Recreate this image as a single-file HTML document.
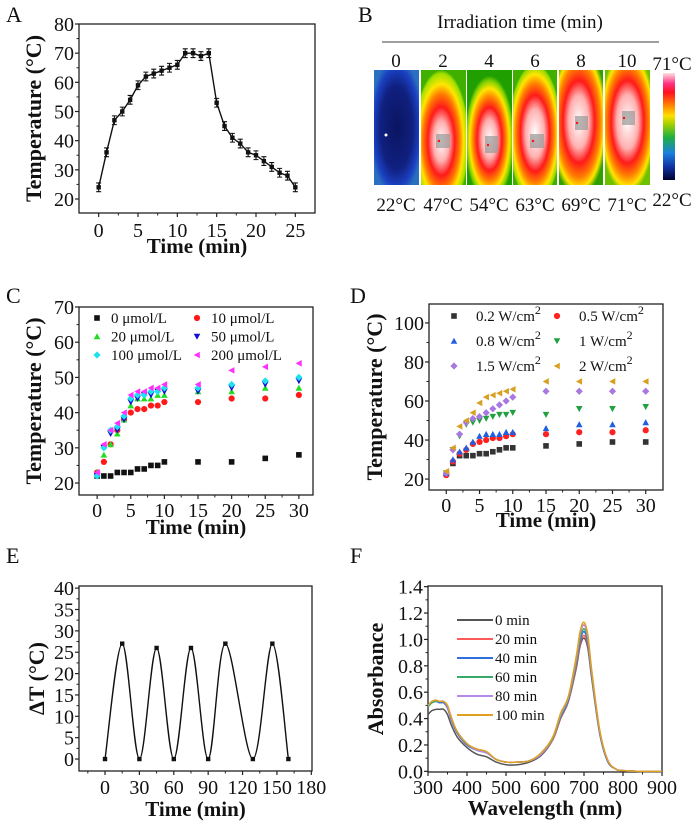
<!DOCTYPE html>
<html><head><meta charset="utf-8"><style>
body{margin:0;background:#fff}
svg{display:block}
text{font-family:"Liberation Serif",serif;fill:#111}
.b{font-weight:bold}
</style></head><body>
<svg id="fig" width="700" height="824" viewBox="0 0 700 824" xmlns="http://www.w3.org/2000/svg">
<defs>
<radialGradient id="hot1" cx="0.45" cy="0.62" r="0.62" fx="0.45" fy="0.62">
<stop offset="0" stop-color="#fff"/><stop offset="0.28" stop-color="#ffb0b0"/><stop offset="0.48" stop-color="#ff1a1a"/><stop offset="0.66" stop-color="#ff7a00"/><stop offset="0.8" stop-color="#ffe600"/><stop offset="0.95" stop-color="#9ee000"/><stop offset="1" stop-color="#40b000"/></radialGradient>
<radialGradient id="hot2" cx="0.5" cy="0.6" r="0.55"><stop offset="0" stop-color="#fff"/><stop offset="0.3" stop-color="#ffb0b0"/><stop offset="0.5" stop-color="#ff1a1a"/><stop offset="0.66" stop-color="#ff8000"/><stop offset="0.8" stop-color="#ffe600"/><stop offset="0.92" stop-color="#80d000"/><stop offset="1" stop-color="#20a000"/></radialGradient>
<radialGradient id="hot3" cx="0.5" cy="0.55" r="0.6"><stop offset="0" stop-color="#fff"/><stop offset="0.35" stop-color="#ffb0b0"/><stop offset="0.55" stop-color="#ff1a1a"/><stop offset="0.72" stop-color="#ff8000"/><stop offset="0.85" stop-color="#ffe600"/><stop offset="0.97" stop-color="#90d800"/><stop offset="1" stop-color="#40b000"/></radialGradient>
<radialGradient id="hot4" cx="0.45" cy="0.45" r="0.65"><stop offset="0" stop-color="#fff"/><stop offset="0.35" stop-color="#ffb0b0"/><stop offset="0.55" stop-color="#ff1a1a"/><stop offset="0.75" stop-color="#ff8000"/><stop offset="0.88" stop-color="#ffe600"/><stop offset="1" stop-color="#30a000"/></radialGradient>
<radialGradient id="hot5" cx="0.5" cy="0.45" r="0.62"><stop offset="0" stop-color="#fff"/><stop offset="0.38" stop-color="#ffb0b0"/><stop offset="0.58" stop-color="#ff1a1a"/><stop offset="0.76" stop-color="#ff8000"/><stop offset="0.9" stop-color="#ffe600"/><stop offset="1" stop-color="#70c000"/></radialGradient>
<radialGradient id="cold" cx="0.5" cy="0.5" r="0.6"><stop offset="0" stop-color="#0a1560"/><stop offset="0.6" stop-color="#102080"/><stop offset="0.85" stop-color="#1a40c0"/><stop offset="1" stop-color="#2a70c0"/></radialGradient>
<linearGradient id="cbar" x1="0" y1="1" x2="0" y2="0"><stop offset="0" stop-color="#000030"/><stop offset="0.12" stop-color="#1030a0"/><stop offset="0.25" stop-color="#1a80e0"/><stop offset="0.4" stop-color="#20b040"/><stop offset="0.52" stop-color="#a0d000"/><stop offset="0.6" stop-color="#ffe000"/><stop offset="0.7" stop-color="#ff8000"/><stop offset="0.82" stop-color="#ff1020"/><stop offset="0.9" stop-color="#ff3080"/><stop offset="1" stop-color="#ffe0e0"/></linearGradient>
</defs>
<g id="panelB">
<text x="358" y="22" font-size="22">B</text>
<text x="520" y="28" font-size="19" text-anchor="middle">Irradiation time (min)</text>
<line x1="382" y1="42" x2="659" y2="42" stroke="#666" stroke-width="1.3"/>
<rect x="374" y="70" width="45" height="115" fill="url(#cold)"/>
<rect x="421" y="70" width="45" height="115" fill="url(#hot1)"/>
<rect x="467" y="70" width="45" height="115" fill="url(#hot2)"/>
<rect x="513" y="70" width="44" height="115" fill="url(#hot3)"/>
<rect x="559" y="70" width="44" height="115" fill="url(#hot4)"/>
<rect x="605" y="70" width="45" height="115" fill="url(#hot5)"/>
<circle cx="386" cy="135" r="1.5" fill="#fff"/>
<g fill="#999" opacity="0.7"><rect x="436" y="134" width="14" height="14"/><rect x="485" y="136" width="13" height="17"/><rect x="530" y="134" width="14" height="14"/><rect x="575" y="116" width="13" height="14"/><rect x="622" y="111" width="13" height="14"/></g>
<g fill="#ff1010"><circle cx="439" cy="141" r="1.2"/><circle cx="488" cy="145" r="1.2"/><circle cx="533" cy="141" r="1.2"/><circle cx="577" cy="123" r="1.2"/><circle cx="624" cy="118" r="1.2"/></g>
<rect x="663" y="73" width="12" height="107" fill="url(#cbar)"/>
<text x="672" y="70" font-size="19" text-anchor="middle">71°C</text>
<text x="672" y="206" font-size="19" text-anchor="middle">22°C</text>
</g>
<g id="plots"></g>
</svg>
<script>
// ---- data ----
var aTime=[0,1,2,3,4,5,6,7,8,9,10,11,12,13,14,15,16,17,18,19,20,21,22,23,24,25];
var aTemp=[24,36,47,50,54,59,62,63,64,65,66,70,70,69,70,53,45,41,39,36,35,33,31,29,28,24];
var aErr=[1.5,1.5,1.5,1.5,1.5,1.5,1.5,1.5,1.5,1.5,1.5,1.5,1.5,1.5,1.5,1.5,1.5,1.5,1.5,1.5,1.5,1.5,1.5,1.5,1.5,1.5];
var bTimes=["0","2","4","6","8","10"];
var bTemps=["22°C","47°C","54°C","63°C","69°C","71°C"];
var cdTime=[0,1,2,3,4,5,6,7,8,9,10,15,20,25,30];
var cLabels=["0 μmol/L","10 μmol/L","20 μmol/L","50 μmol/L","100 μmol/L","200 μmol/L"];
var c0=[22,22,22,23,23,23,24,24,25,25,26,26,26,27,28];
var c10=[23,26,31,35,38,40,41,41,42,42,43,43,44,44,45];
var c20=[23,28,31,34,38,42,44,44,44,45,45,46,46,47,47];
var c50=[22,30,34,35,38,43,44,45,45,46,46,46,47,48,49];
var c100=[22,30,35,36,39,44,45,45,46,46,47,47,48,49,50];
var c200=[23,31,35,37,40,45,46,46,47,47,48,48,52,53,54];
var dLabels=["0.2 W/cm","0.5 W/cm","0.8 W/cm","1 W/cm","1.5 W/cm","2 W/cm"];
var d02=[23,28,32,32,32,33,33,34,35,36,36,37,38,39,39];
var d05=[22,29,33,35,38,39,40,41,41,42,43,43,44,44,45];
var d08=[23,30,34,36,39,42,43,43,43,44,44,46,48,48,49];
var d1=[23,35,42,48,49,50,51,52,53,53,54,53,56,56,57];
var d15=[23,35,43,49,51,52,54,56,58,60,62,65,65,65,65];
var d2=[24,36,47,50,54,59,62,63,64,65,66,70,70,70,70];
var eTime=[0,15,30,45,60,75,90,105,129,146,160];
var eDelta=[0,27,0,26,0,26,0,27,0,27,0];
var fWl=[300,310,320,330,340,350,360,375,400,425,450,475,500,530,560,590,620,640,660,680,690,700,710,720,740,760,780,800,850,900];
var fLabels=["0 min","20 min","40 min","60 min","80 min","100 min"];
var f0=[0.43,0.46,0.47,0.47,0.47,0.43,0.35,0.26,0.18,0.13,0.11,0.07,0.05,0.05,0.07,0.12,0.24,0.40,0.53,0.78,0.95,1.01,0.93,0.70,0.29,0.08,0.02,0.005,0,0];
var f20=[0.49,0.52,0.53,0.52,0.52,0.48,0.39,0.29,0.20,0.16,0.14,0.09,0.07,0.07,0.08,0.13,0.24,0.40,0.53,0.80,0.97,1.03,0.95,0.72,0.30,0.08,0.02,0.005,0,0];
var f40=[0.49,0.52,0.53,0.52,0.52,0.48,0.39,0.29,0.20,0.16,0.14,0.09,0.07,0.07,0.08,0.13,0.25,0.41,0.54,0.82,0.99,1.06,0.97,0.73,0.30,0.08,0.02,0.005,0,0];
var f60=[0.49,0.52,0.53,0.53,0.53,0.49,0.40,0.30,0.21,0.16,0.14,0.09,0.07,0.07,0.08,0.13,0.25,0.42,0.55,0.83,1.01,1.08,0.99,0.74,0.31,0.09,0.02,0.005,0,0];
var f80=[0.50,0.53,0.54,0.53,0.53,0.49,0.40,0.30,0.21,0.16,0.14,0.09,0.07,0.07,0.08,0.13,0.26,0.43,0.56,0.85,1.04,1.11,1.01,0.75,0.31,0.09,0.02,0.005,0,0];
var f100=[0.50,0.53,0.54,0.53,0.53,0.50,0.41,0.30,0.21,0.17,0.15,0.09,0.07,0.07,0.08,0.14,0.26,0.44,0.57,0.87,1.06,1.13,1.03,0.76,0.32,0.09,0.02,0.005,0,0];
// ---- helpers ----
var NS="http://www.w3.org/2000/svg";
var root=document.getElementById('plots');
function mk(tag,attrs,parent){var e=document.createElementNS(NS,tag);for(var k in attrs)e.setAttribute(k,attrs[k]);(parent||root).appendChild(e);return e;}
function txt(s,x,y,size,anchor,parent,cls){var t=mk('text',{x:x,y:y,'font-size':size,'text-anchor':anchor||'start'},parent);if(cls)t.setAttribute('class',cls);t.textContent=s;return t;}
function axes(o){
  var g=mk('g',{});
  
  
  var sx=function(v){return o.x0+(v-o.xd[0])/(o.xd[1]-o.xd[0])*(o.x1-o.x0);};
  var sy=function(v){return o.y1-(v-o.yd[0])/(o.yd[1]-o.yd[0])*(o.y1-o.y0);};
  var box=mk('rect',{x:o.x0,y:o.y0,width:o.x1-o.x0,height:o.y1-o.y0,fill:'none',stroke:'#222','stroke-width':1.3},g);
  
  
  o.xt.forEach(function(v,i){var x=sx(v);mk('line',{x1:x,y1:o.y1,x2:x,y2:o.y1+4,stroke:'#222','stroke-width':1.2},g);
    var t=txt(o.xtl[i],x,o.xlb,20,'middle',g);
    
    });
  (o.xm||[]).forEach(function(v){var x=sx(v);mk('line',{x1:x,y1:o.y1,x2:x,y2:o.y1+2.5,stroke:'#222','stroke-width':1},g);});
  o.yt.forEach(function(v,i){var y=sy(v);mk('line',{x1:o.x0-4,y1:y,x2:o.x0,y2:y,stroke:'#222','stroke-width':1.2},g);
    var t=txt(o.ytl[i],o.x0-5,y+7,20,'end',g);
    
    });
  (o.ym||[]).forEach(function(v){var y=sy(v);mk('line',{x1:o.x0-2.5,y1:y,x2:o.x0,y2:y,stroke:'#222','stroke-width':1},g);});
  var xt=txt(o.xtitle,(o.x0+o.x1)/2,o.xtb,21,'middle',g,'b');
  
  
  var yt=txt(o.ytitle,0,0,22,'middle',g,'b');
  yt.setAttribute('transform','translate('+o.ytx+','+((o.y0+o.y1)/2)+') rotate(-90)');
  
  
  var pl=txt(o.letter,o.lx,o.ly,22,'start',g);
  
  
  return {g:g,sx:sx,sy:sy};
}
function marker(shape,x,y,color,g){
  var s=2.8,e;
  if(shape==='sq')e=mk('rect',{x:x-s,y:y-s,width:2*s,height:2*s,fill:color},g);
  else if(shape==='ci')e=mk('circle',{cx:x,cy:y,r:s+0.3,fill:color},g);
  else if(shape==='up')e=mk('polygon',{points:(x)+','+(y-s-0.5)+' '+(x-s-0.5)+','+(y+s)+' '+(x+s+0.5)+','+(y+s),fill:color},g);
  else if(shape==='dn')e=mk('polygon',{points:(x)+','+(y+s+0.5)+' '+(x-s-0.5)+','+(y-s)+' '+(x+s+0.5)+','+(y-s),fill:color},g);
  else if(shape==='di')e=mk('polygon',{points:x+','+(y-s-0.8)+' '+(x+s+0.8)+','+y+' '+x+','+(y+s+0.8)+' '+(x-s-0.8)+','+y,fill:color},g);
  else e=mk('polygon',{points:(x-s-0.5)+','+y+' '+(x+s)+','+(y-s-0.5)+' '+(x+s)+','+(y+s+0.5),fill:color},g);
  return e;
}
// ---- Panel A ----
var A=axes({name:'panel-a-heating-cooling',x0:79,x1:315,y0:24,y1:213,xd:[-2.5,27.5],yd:[15.2,80],
 xt:[0,5,10,15,20,25],xtl:['0','5','10','15','20','25'],xm:[2.5,7.5,12.5,17.5,22.5],
 yt:[20,30,40,50,60,70,80],ytl:['20','30','40','50','60','70','80'],ym:[25,35,45,55,65,75],
 xlb:237,xtb:253,ytx:41,xtitle:'Time (min)',ytitle:'Temperature (°C)',letter:'A',lx:6,ly:22});
var dA='';aTime.forEach(function(t,i){dA+=(i?'L':'M')+A.sx(t)+','+A.sy(aTemp[i]);});
var lineA=mk('path',{d:dA,fill:'none',stroke:'#111','stroke-width':1.4},A.g);


aTime.forEach(function(t,i){var x=A.sx(t),y1=A.sy(aTemp[i]+aErr[i]),y2=A.sy(aTemp[i]-aErr[i]);
 mk('path',{d:'M'+x+','+y1+'V'+y2+'M'+(x-2.5)+','+y1+'h5M'+(x-2.5)+','+y2+'h5',stroke:'#111','stroke-width':1.1,fill:'none'},A.g);
 var m=mk('rect',{x:x-2.2,y:A.sy(aTemp[i])-2.2,width:4.4,height:4.4,fill:'#111'},A.g);
 
 });
// ---- Panel B labels ----
var bX=[396,443,489,535,581,627];
var gB=document.getElementById('panelB');
bTimes.forEach(function(s,i){var t=txt(s,bX[i],67,19,'middle',gB);
 
 });
bTemps.forEach(function(s,i){var t=txt(s,bX[i],211,19,'middle',gB);
 
 });
// ---- Panel C ----
var C=axes({name:'panel-c-concentration',x0:79,x1:313,y0:307,y1:495,xd:[-2.7,32.1],yd:[16.6,70],
 xt:[0,5,10,15,20,25,30],xtl:['0','5','10','15','20','25','30'],xm:[2.5,7.5,12.5,17.5,22.5,27.5],
 yt:[20,30,40,50,60,70],ytl:['20','30','40','50','60','70'],ym:[25,35,45,55,65],
 xlb:517,xtb:534,ytx:41,xtitle:'Time (min)',ytitle:'Temperature (°C)',letter:'C',lx:6,ly:303});
var cSeries=[c0,c10,c20,c50,c100,c200];
var cCols=['#111','#ff1a1a','#22dd22','#1010d0','#20e0f0','#ff30ff'];
var cShapes=['sq','ci','up','dn','di','lt'];
cSeries.forEach(function(s,k){s.forEach(function(v,i){var m=marker(cShapes[k],C.sx(cdTime[i]),C.sy(v),cCols[k],C.g);
 
 });});
cLabels.forEach(function(l,k){var col=k%2,row=Math.floor(k/2);var x=97+col*100,y=318+row*18.5;
 marker(cShapes[k],x,y,cCols[k],C.g);var t=txt(l,x+14,y+5,15,'start',C.g);
 
 });
// ---- Panel D ----
var D=axes({name:'panel-d-power-density',x0:429,x1:663,y0:304,y1:490,xd:[-2.6,32.6],yd:[14.4,109.7],
 xt:[0,5,10,15,20,25,30],xtl:['0','5','10','15','20','25','30'],xm:[2.5,7.5,12.5,17.5,22.5,27.5],
 yt:[20,40,60,80,100],ytl:['20','40','60','80','100'],ym:[30,50,70,90],
 xlb:512,xtb:527,ytx:382,xtitle:'Time (min)',ytitle:'Temperature (°C)',letter:'D',lx:350,ly:303});
var dSeries=[d02,d05,d08,d1,d15,d2];
var dCols=['#333','#ff2020','#2060e0','#20a040','#a878e0','#d8a020'];
var dShapes=['sq','ci','up','dn','di','lt'];
dSeries.forEach(function(s,k){s.forEach(function(v,i){var m=marker(dShapes[k],D.sx(cdTime[i]),D.sy(v),dCols[k],D.g);
 
 });});
dLabels.forEach(function(l,k){var col=k%2,row=Math.floor(k/2);var x=454+col*103,y=316+row*25;
 marker(dShapes[k],x,y,dCols[k],D.g);var t=txt(l,x+22,y+5,15,'start',D.g);
 var sup=document.createElementNS(NS,'tspan');sup.setAttribute('dy','-7');sup.setAttribute('font-size','12');sup.textContent='2';t.appendChild(sup);
 
 });
// ---- Panel E ----
var E=axes({name:'panel-e-cycles',x0:79,x1:312,y0:586,y1:771,xd:[-22.7,180.6],yd:[-2.8,40.5],
 xt:[0,30,60,90,120,150,180],xtl:['0','30','60','90','120','150','180'],xm:[-15,15,45,75,105,135,165],
 yt:[0,5,10,15,20,25,30,35,40],ytl:['0','5','10','15','20','25','30','35','40'],ym:[2.5,7.5,12.5,17.5,22.5,27.5,32.5,37.5],
 xlb:794,xtb:816,ytx:44,xtitle:'Time (min)',ytitle:'ΔT (°C)',letter:'E',lx:6,ly:563});
var pe=eTime.map(function(t,i){return [E.sx(t),E.sy(eDelta[i])];});
var dE='M'+pe[0][0]+','+pe[0][1];
for(var i=0;i<pe.length-1;i++){var p0=pe[Math.max(0,i-1)],p1=pe[i],p2=pe[i+1],p3=pe[Math.min(pe.length-1,i+2)];
 dE+='C'+(p1[0]+(p2[0]-p0[0])/6)+','+(p1[1]+(p2[1]-p0[1])/6)+' '+(p2[0]-(p3[0]-p1[0])/6)+','+(p2[1]-(p3[1]-p1[1])/6)+' '+p2[0]+','+p2[1];}
var lineE=mk('path',{d:dE,fill:'none',stroke:'#111','stroke-width':1.4},E.g);


pe.forEach(function(p){var m=mk('rect',{x:p[0]-2.2,y:p[1]-2.2,width:4.4,height:4.4,fill:'#111'},E.g);
 
 });
// ---- Panel F ----
var F=axes({name:'panel-f-absorbance',x0:428,x1:662,y0:586,y1:772,xd:[300,900],yd:[-0.005,1.405],
 xt:[300,400,500,600,700,800,900],xtl:['300','400','500','600','700','800','900'],xm:[350,450,550,650,750,850],
 yt:[0,0.2,0.4,0.6,0.8,1.0,1.2,1.4],ytl:['0.0','0.2','0.4','0.6','0.8','1.0','1.2','1.4'],ym:[0.1,0.3,0.5,0.7,0.9,1.1,1.3],
 xlb:794,xtb:815,ytx:383,xtitle:'Wavelength (nm)',ytitle:'Absorbance',letter:'F',lx:350,ly:563});
var fSeries=[f0,f20,f40,f60,f80,f100];
var fCols=['#555','#ff5a5a','#2f6fe0','#3aaa6a','#b58ae8','#e0a020'];
fSeries.forEach(function(s,k){
 var pts=fWl.map(function(w,i){return [F.sx(w),F.sy(s[i])];});
 var d='M'+pts[0][0]+','+pts[0][1];
 for(var i=0;i<pts.length-1;i++){var p0=pts[Math.max(0,i-1)],p1=pts[i],p2=pts[i+1],p3=pts[Math.min(pts.length-1,i+2)];
  d+='C'+(p1[0]+(p2[0]-p0[0])/6)+','+(p1[1]+(p2[1]-p0[1])/6)+' '+(p2[0]-(p3[0]-p1[0])/6)+','+(p2[1]-(p3[1]-p1[1])/6)+' '+p2[0]+','+p2[1];}
 var ln=mk('path',{d:d,fill:'none',stroke:fCols[k],'stroke-width':1.5},F.g);
 
 
 var y=620+k*19;
 mk('line',{x1:457,y1:y,x2:493,y2:y,stroke:fCols[k],'stroke-width':2},F.g);
 var t=txt(fLabels[k],495,y+5,15,'start',F.g);
 
 
});
</script>
</body></html>
